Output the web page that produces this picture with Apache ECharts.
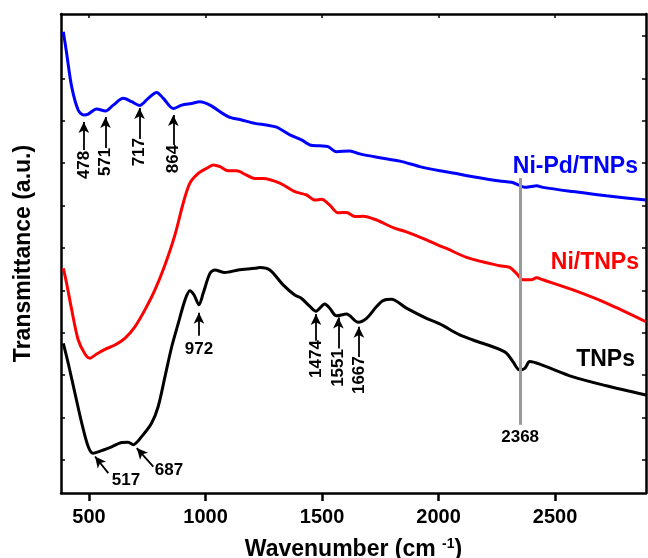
<!DOCTYPE html>
<html>
<head>
<meta charset="utf-8">
<script src="https://cdn.jsdelivr.net/npm/echarts@6/dist/echarts.min.js"></script>
<style>
html,body{margin:0;padding:0;background:#fff;}
#c{width:648px;height:558px;}
</style>
</head>
<body>
<div id="c"></div>
<script>
// ---- data (wavenumber cm^-1, transmittance a.u.) ----
const xTicks = [500, 1000, 1500, 2000, 2500];
const yTicks = [10, 20, 30, 40, 50, 60, 70, 80, 90, 100, 110];

const niPdWave = [390,404,426,454,478,497,533,571,604,647,683,717,754,790,819,862,898,940,976,1019,1097,1155,1212,1262,1305,1362,1412,1448,1491,1526,1562,1619,1662,1748,1834,1919,2005,2091,2148,2262,2313,2341,2370,2398,2420,2448,2577,2720,2890];
const niPdT    = [111.0,106.0,98.0,92.5,91.4,91.6,92.8,92.3,93.7,95.3,94.5,93.6,95.3,96.7,95.3,92.9,93.7,94.1,94.5,93.7,91.0,90.2,89.4,89.0,88.5,86.7,85.5,84.3,84.1,83.9,82.7,82.9,82.2,81.3,80.5,79.2,78.2,77.4,76.8,75.8,75.5,74.9,74.3,74.5,74.7,74.3,73.3,72.3,71.3];

const niWave = [390,404,426,454,483,504,533,569,611,654,697,740,783,826,869,904,933,969,1005,1033,1062,1097,1133,1176,1212,1247,1319,1383,1434,1469,1498,1533,1569,1605,1641,1676,1734,1805,1862,1948,2005,2034,2120,2262,2305,2334,2362,2398,2420,2448,2577,2720,2890];
const niT    = [55.2,51.7,45.4,38.3,35.0,34.0,35.0,36.1,37.1,38.7,41.4,45.4,50.1,56.0,63.1,70.5,75.3,77.6,78.8,79.6,79.2,78.2,78.2,77.2,76.4,76.4,75.3,73.3,72.5,71.3,71.5,70.1,68.3,68.4,67.4,67.5,66.6,64.8,63.8,61.9,60.5,59.9,57.8,55.8,55.4,54.0,52.5,52.5,53.0,52.5,50.1,47.0,42.6];

const tnpWave = [390,411,440,469,497,517,554,597,640,668,690,726,769,797,826,855,883,912,933,951,972,990,1019,1040,1083,1140,1212,1233,1276,1333,1383,1412,1448,1474,1512,1533,1562,1605,1655,1691,1734,1762,1798,1862,1948,2005,2091,2148,2284,2319,2348,2370,2391,2434,2577,2720,2890];
const tnpT    = [37.5,32.8,25.7,18.7,13.1,11.6,12.2,13.1,14.1,14.2,13.6,15.5,18.7,22.6,29.6,36.7,42.2,47.7,49.9,48.9,46.6,49.3,54.0,54.8,54.2,54.8,55.2,55.4,54.8,51.3,48.9,48.1,46.2,45.1,46.8,45.8,44.0,44.4,42.5,43.4,46.2,47.6,47.9,45.8,43.4,42.1,39.5,38.3,35.5,33.2,31.2,31.6,33.2,32.6,29.6,27.5,25.3];

// peak annotations: label text, arrow from (tailX, tailY) to (tipX, tipY), label at (lx, ly)
const annText  = ['478','571','717','864','972','1474','1551','1667','517','687'];
const annTipX  = [478, 571, 717, 862, 972, 1474, 1570, 1658, 526, 705];
const annTipY  = [89.7, 90.9, 93.0, 91.4, 44.7, 44.4, 43.6, 41.4, 10.8, 12.8];
const annTailX = [478, 571, 717, 862, 972, 1474, 1570, 1658, 583, 776];
const annTailY = [83.1, 83.6, 85.7, 84.3, 39.3, 38.1, 36.3, 34.3, 6.9, 8.4];
const annLabX  = [478, 571, 717, 862, 972, 1474, 1570, 1658, 659, 843];
const annLabY  = [79.6, 80.3, 82.6, 81.0, 36.2, 33.8, 31.7, 30.0, 5.3, 7.6];
const annRot   = [90, 90, 90, 90, 0, 90, 90, 90, 0, 0];

const co2Wave = 2350, co2Label = '2368', co2Top = 76.5, co2Bottom = 18.3, co2LabelY = 15.4;

const seriesNames = ['Ni-Pd/TNPs', 'Ni/TNPs', 'TNPs'];

// ---- build ----
const zip = (a, b) => a.map((v, i) => [v, b[i]]);
const FONT = '"Liberation Sans", Arial, sans-serif';

const arrowLines = annText.map((t, i) => [
  { coord: [annTailX[i], annTailY[i]], symbol: 'none' },
  { coord: [annTipX[i], annTipY[i]], symbol: 'arrow', symbolSize: [8, 11] }
]);

const labelData = annText.map((t, i) => ({
  value: [annLabX[i], annLabY[i], t],
  label: { rotate: annRot[i] }
}));
labelData.push({ value: [co2Wave, co2LabelY, co2Label], label: { rotate: 0 } });

const chart = echarts.init(document.getElementById('c'), null, { renderer: 'canvas' });

chart.setOption({
  animation: false,
  backgroundColor: '#fff',
  grid: { left: 61, right: 2, top: 14, bottom: 65, containLabel: false, outerBoundsMode: 'none' },
  xAxis: [
    {
      type: 'value', min: 380, max: 2890, position: 'bottom',
      name: 'Wavenumber (cm {sup|-1})', nameLocation: 'middle', nameGap: 44,
      nameTextStyle: { fontFamily: FONT, fontWeight: 'bold', fontSize: 23, color: '#000',
        rich: { sup: { fontFamily: FONT, fontWeight: 'bold', fontSize: 14, color: '#000', padding: [0, 0, 12, 0] } } },
      axisLine: { show: true, onZero: false, lineStyle: { color: '#000', width: 2.5 } },
      axisTick: { show: true, inside: false, length: 8, lineStyle: { color: '#000', width: 2.5 }, customValues: xTicks },
      axisLabel: { show: true, margin: 14, fontFamily: FONT, fontWeight: 'bold', fontSize: 20, color: '#000',
        customValues: xTicks, formatter: v => String(v) },
      splitLine: { show: false }
    },
    {
      type: 'value', min: 380, max: 2890, position: 'top',
      axisLine: { show: true, onZero: false, lineStyle: { color: '#000', width: 2.5 } },
      axisTick: { show: true, inside: true, length: 4, lineStyle: { color: '#000', width: 1.5 }, customValues: xTicks },
      axisLabel: { show: false },
      splitLine: { show: false }
    }
  ],
  yAxis: [
    {
      type: 'value', min: 2.2, max: 115.2, position: 'left',
      name: 'Transmittance (a.u.)', nameLocation: 'middle', nameGap: 26,
      nameTextStyle: { fontFamily: FONT, fontWeight: 'bold', fontSize: 23, color: '#000' },
      axisLine: { show: true, onZero: false, lineStyle: { color: '#000', width: 2.5 } },
      axisTick: { show: true, inside: true, length: 4, lineStyle: { color: '#000', width: 1.5 }, customValues: yTicks },
      axisLabel: { show: false },
      splitLine: { show: false }
    },
    {
      type: 'value', min: 2.2, max: 115.2, position: 'right',
      axisLine: { show: true, onZero: false, lineStyle: { color: '#000', width: 2.5 } },
      axisTick: { show: true, inside: true, length: 4, lineStyle: { color: '#000', width: 1.5 }, customValues: yTicks },
      axisLabel: { show: false },
      splitLine: { show: false }
    }
  ],
  series: [
    {
      name: seriesNames[0], type: 'line', data: zip(niPdWave, niPdT), smooth: 0.3,
      showSymbol: false, lineStyle: { color: '#0000ff', width: 3 }, itemStyle: { color: '#0000ff' },
      silent: true
    },
    {
      name: seriesNames[1], type: 'line', data: zip(niWave, niT), smooth: 0.3,
      showSymbol: false, lineStyle: { color: '#ff0000', width: 3 }, itemStyle: { color: '#ff0000' },
      silent: true
    },
    {
      name: seriesNames[2], type: 'line', data: zip(tnpWave, tnpT), smooth: 0.3,
      showSymbol: false, lineStyle: { color: '#000', width: 3 }, itemStyle: { color: '#000' },
      silent: true,
      markLine: {
        silent: true, animation: false, symbol: 'none',
        label: { show: false },
        lineStyle: { color: '#999', width: 3, type: 'solid' },
        emphasis: { disabled: true },
        data: [[{ coord: [co2Wave, co2Bottom] }, { coord: [co2Wave, co2Top] }]]
      },
      z: 3
    },
    {
      name: 'arrows', type: 'line', data: [], silent: true, z: 5,
      markLine: {
        silent: true, animation: false,
        label: { show: false },
        lineStyle: { color: '#000', width: 1.8, type: 'solid', opacity: 1 },
        itemStyle: { color: '#000' },
        emphasis: { disabled: true },
        data: arrowLines
      }
    },
    {
      name: 'labels', type: 'scatter', data: labelData, symbolSize: 0, silent: true, z: 6,
      itemStyle: { color: '#000', opacity: 1 },
      label: {
        show: true, position: 'inside', color: '#000', fontFamily: FONT, fontSize: 17, fontWeight: 'bold',
        formatter: p => p.value[2]
      }
    }
  ],
  graphic: [
    { type: 'text', right: 10, top: 155, style: { text: seriesNames[0], fill: '#0000ff', font: 'bold 23px ' + FONT } },
    { type: 'text', right: 9, top: 251, style: { text: seriesNames[1], fill: '#ff0000', font: 'bold 23px ' + FONT } },
    { type: 'text', right: 13, top: 348, style: { text: seriesNames[2], fill: '#000000', font: 'bold 23px ' + FONT } }
  ]
});
</script>
</body>
</html>
